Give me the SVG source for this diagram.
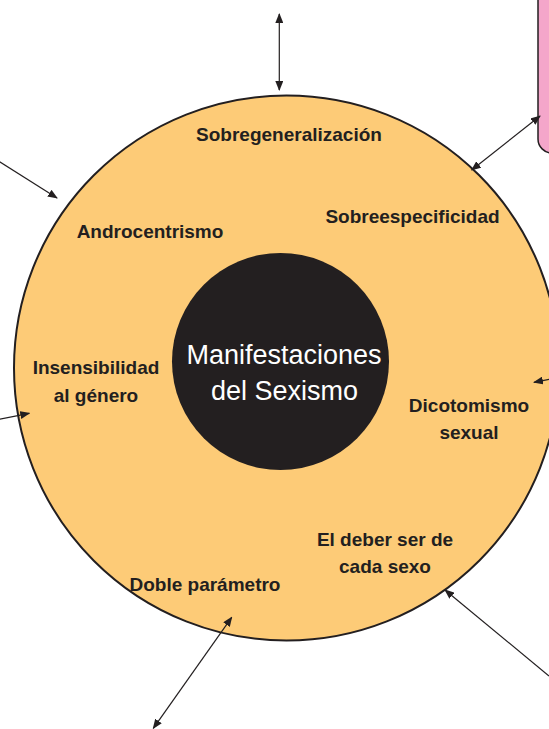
<svg xmlns="http://www.w3.org/2000/svg" width="549" height="729" viewBox="0 0 549 729">
<style>
.lbl{font-family:"Liberation Sans",Arial,sans-serif;font-weight:bold;font-size:19px;fill:#231f20;text-anchor:middle}
.ctr{font-family:"Liberation Sans",Arial,sans-serif;font-size:27px;fill:#ffffff;text-anchor:middle}
.con{stroke:#231f20;stroke-width:1.2;fill:none}
</style>
<defs>
<marker id="ah" markerUnits="userSpaceOnUse" markerWidth="10" markerHeight="8" refX="9" refY="4" orient="auto-start-reverse" viewBox="0 0 10 8">
<path d="M0,0 L10,4 L0,8 Z" fill="#231f20"/>
</marker>
</defs>
<rect width="549" height="729" fill="#ffffff"/>
<g id="pink-box">
<rect x="538" y="-20" width="40" height="173" rx="14" fill="#f4a6ca" stroke="#231f20" stroke-width="1.5"/>
</g>
<g id="outer-ring">
<circle cx="286.5" cy="368" r="272.5" fill="#fdcb77" stroke="#231f20" stroke-width="2"/>
</g>
<g id="center">
<circle cx="280.5" cy="361.5" r="108.5" fill="#231f20"/>
<text class="ctr" x="284" y="364">Manifestaciones</text>
<text class="ctr" x="284.5" y="400">del Sexismo</text>
</g>
<g id="sobregeneralizacion"><text class="lbl" x="289" y="141">Sobregeneralización</text></g>
<g id="androcentrismo"><text class="lbl" x="150" y="238">Androcentrismo</text></g>
<g id="sobreespecificidad"><text class="lbl" x="412.5" y="223">Sobreespecificidad</text></g>
<g id="insensibilidad"><text class="lbl" x="96" y="374">Insensibilidad</text><text class="lbl" x="96" y="402">al género</text></g>
<g id="dicotomismo"><text class="lbl" x="469" y="412">Dicotomismo</text><text class="lbl" x="469" y="439">sexual</text></g>
<g id="deber-ser"><text class="lbl" x="385" y="546">El deber ser de</text><text class="lbl" x="385" y="573">cada sexo</text></g>
<g id="doble-parametro"><text class="lbl" x="205" y="591">Doble parámetro</text></g>
<g id="connectors">
<line class="con" x1="279.3" y1="14" x2="279.3" y2="90" marker-start="url(#ah)" marker-end="url(#ah)"/>
<line class="con" x1="-4" y1="159.5" x2="57" y2="198" marker-end="url(#ah)"/>
<line class="con" x1="471.7" y1="170" x2="540" y2="116" marker-start="url(#ah)" marker-end="url(#ah)"/>
<line class="con" x1="-4" y1="420" x2="29.3" y2="413.3" marker-end="url(#ah)"/>
<line class="con" x1="553" y1="378.5" x2="534" y2="382.3" marker-end="url(#ah)"/>
<line class="con" x1="549" y1="676" x2="445" y2="590" marker-end="url(#ah)"/>
<line class="con" x1="153.3" y1="728.3" x2="231.7" y2="617.3" marker-start="url(#ah)" marker-end="url(#ah)"/>
</g>
</svg>
